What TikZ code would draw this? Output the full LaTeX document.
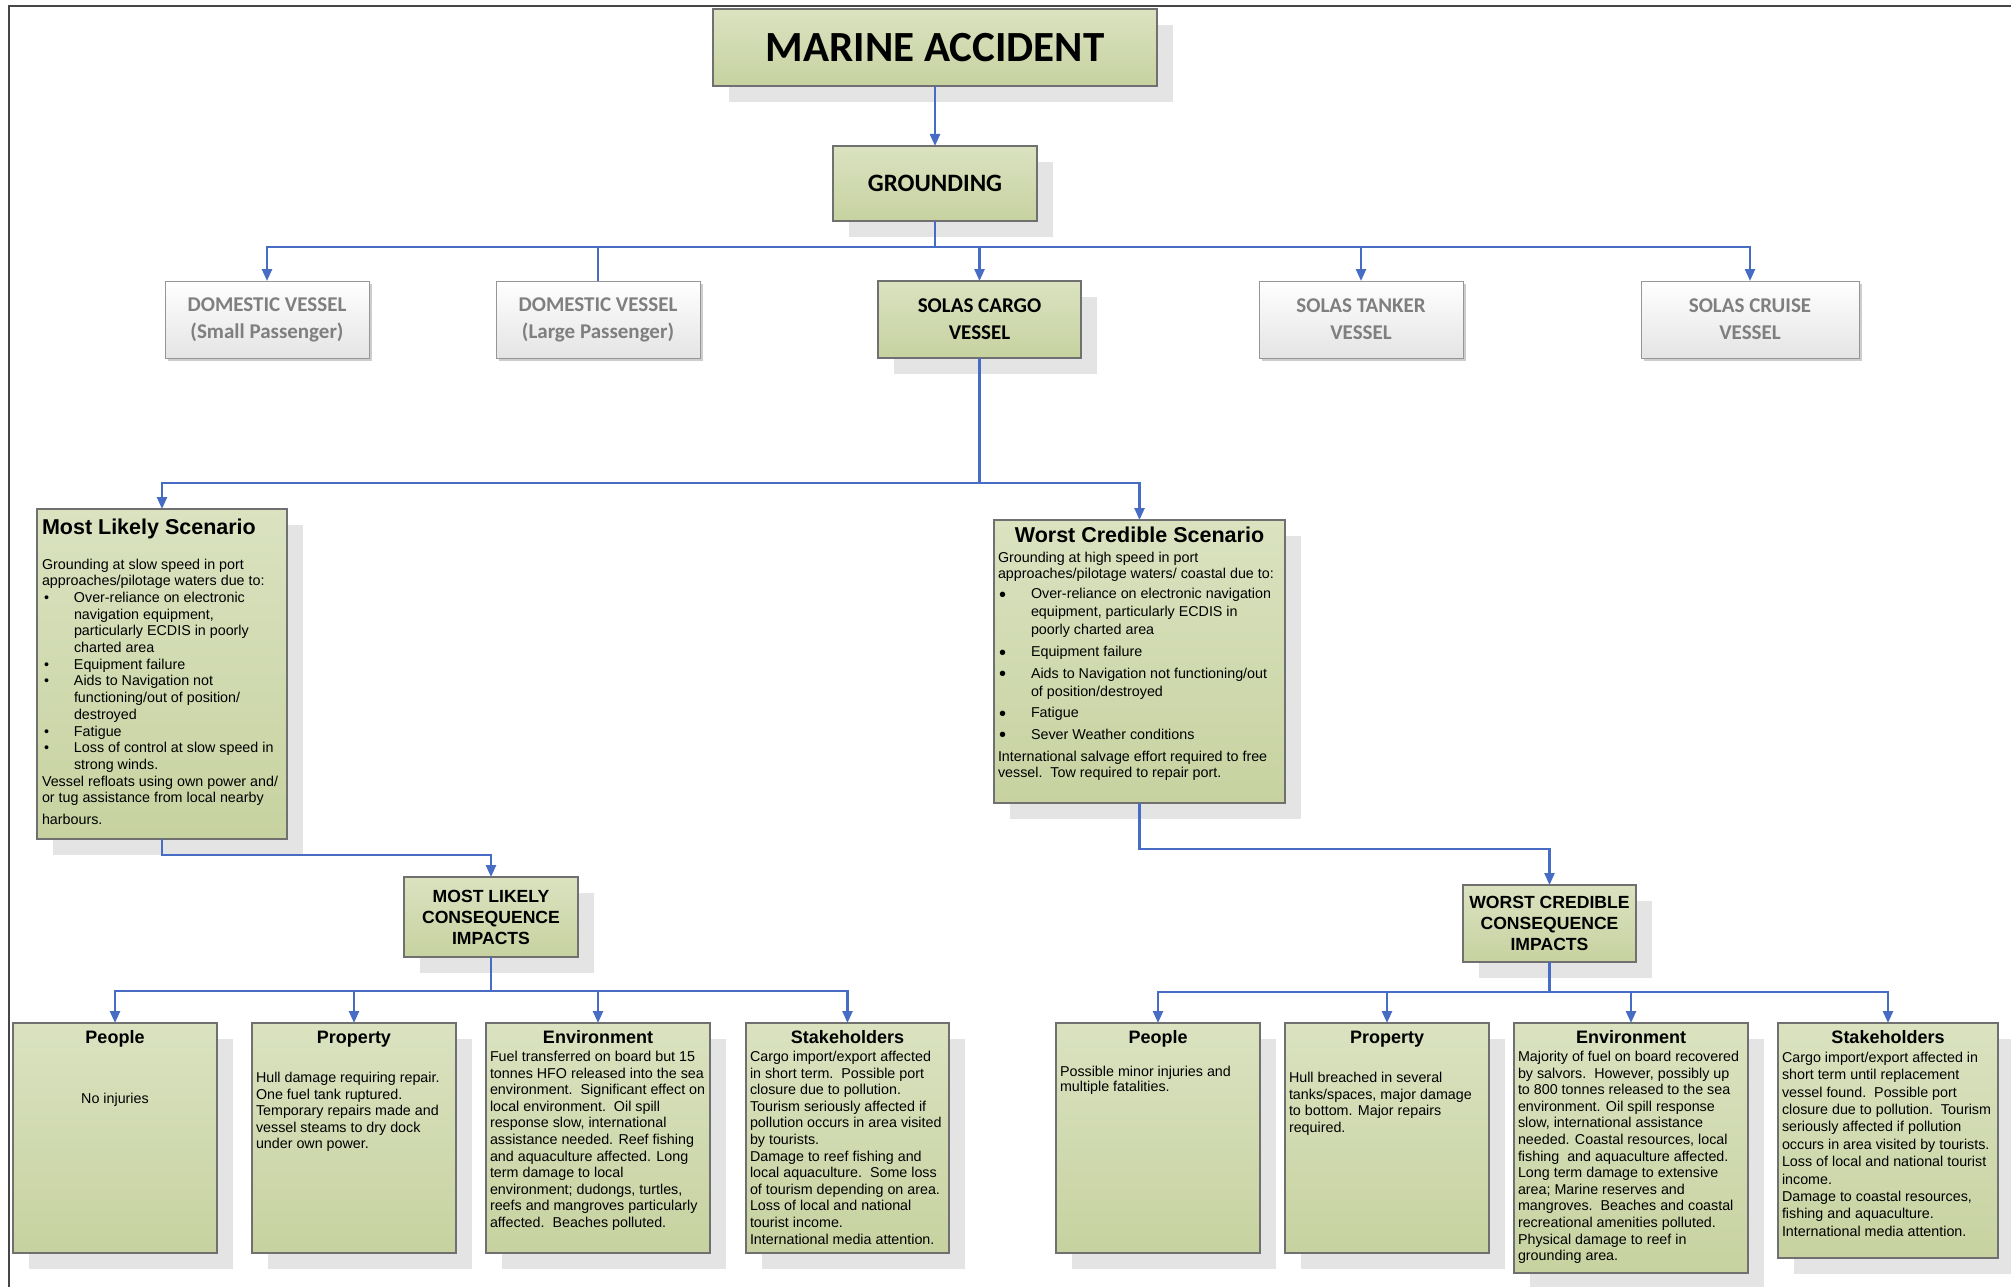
\documentclass[tikz,border=0pt]{standalone}
\usepackage{fontspec}
\setmainfont{Liberation Sans}
\newfontfamily\calib{Carlito}
\usetikzlibrary{arrows.meta,backgrounds}

\definecolor{gtop}{RGB}{218,226,192}
\definecolor{gbot}{RGB}{199,210,160}
\definecolor{boxline}{RGB}{112,112,112}
\definecolor{wline}{RGB}{150,150,150}
\definecolor{wbot}{RGB}{228,228,228}
\definecolor{wshadow}{RGB}{205,205,205}
\definecolor{graytext}{RGB}{127,127,127}
\definecolor{shadowgray}{RGB}{228,228,228}
\definecolor{linkblue}{RGB}{70,108,196}
\definecolor{framecol}{RGB}{70,70,70}

% text styles
\newcommand\bodyfont{\mdseries\fontsize{14.3pt}{16.6pt}\selectfont}
\newcommand\headfont{\bfseries\fontsize{18pt}{20pt}\selectfont}
\newcommand\vesselfont{\calib\bfseries\fontsize{21pt}{27pt}\selectfont}
% one unbreakable text line
\newcommand\txl[1]{\mbox{#1}\par}
% bullets: small (most likely) and large (worst credible)
\newcommand\mlb{\makebox[32pt][l]{\hspace{2pt}\textbullet}}
\newcommand\mli{\hspace*{32pt}}
\newcommand\wcb{\makebox[33pt][l]{\hspace{1pt}\raisebox{-2.5pt}{\fontsize{20pt}{20pt}\selectfont\textbullet}}}
\newcommand\wci{\hspace*{33pt}}
% impact box: width, height, heading, first body baseline, body
\newcommand\impact[5]{\parbox[c][#2][t]{#1}{\centering\headfont\rule{0pt}{20.5pt}#3\par
  \raggedright\bodyfont\vspace{\dimexpr#4-20.5pt-16.6pt\relax}#5}}

\begin{document}
\begin{tikzpicture}[x=1pt,y=-1pt,
  gbox/.style={draw=boxline, line width=1.2pt, top color=gtop, bottom color=gbot,
    anchor=north west, inner xsep=4pt, inner ysep=0pt, outer sep=0pt},
  wbox/.style={draw=wline, line width=1pt, top color=white, bottom color=wbot,
    anchor=north west, inner sep=0pt, outer sep=0pt, text=graytext, align=center,
    font=\vesselfont, minimum height=77pt},
  link/.style={draw=linkblue, line width=2.4pt},
  arr/.style={link, -{Triangle[length=12pt,width=10pt]}},
]
\useasboundingbox (0,0) rectangle (2011,1287);
\begin{scope}[on background layer]
  \fill[white] (0,0) rectangle (2011,1287);
\end{scope}

% page frame
\draw[framecol, line width=2.5pt] (9,1292) -- (9,6) -- (2016,6);

% top levels
\node[gbox, minimum width=444pt, minimum height=77pt,
  font=\calib\bfseries\fontsize{43pt}{50pt}\selectfont] (marine) at (713,9) {MARINE ACCIDENT};
\node[gbox, minimum width=204pt, minimum height=75pt,
  font=\calib\bfseries\fontsize{25pt}{30pt}\selectfont] (grounding) at (833,146) {GROUNDING};

% vessel types
\node[wbox, minimum width=204pt] (dsmall) at (165,281) {DOMESTIC VESSEL\\(Small Passenger)};
\node[wbox, minimum width=204pt] (dlarge) at (496,281) {DOMESTIC VESSEL\\(Large Passenger)};
\node[gbox, minimum width=203pt, minimum height=77pt, align=center, font=\vesselfont]
  (cargo) at (878,281) {SOLAS CARGO\\VESSEL};
\node[wbox, minimum width=204pt] (tanker) at (1259,281) {SOLAS TANKER\\VESSEL};
\node[wbox, minimum width=218pt] (cruise) at (1641,281) {SOLAS CRUISE\\VESSEL};

% scenarios
\node[gbox, inner xsep=5pt] (mls) at (37,509) {\parbox[c][330pt][t]{240pt}{\raggedright
  {\bfseries\fontsize{21.5pt}{24pt}\selectfont\rule{0pt}{25pt}Most Likely Scenario\par}
  \fontsize{14.3pt}{16.7pt}\selectfont
  \vspace{\dimexpr60pt-25pt-16.7pt\relax}
  \txl{Grounding at slow speed in port}
  \txl{approaches/pilotage waters due to:}
  \txl{\mlb Over-reliance on electronic}
  \txl{\mli navigation equipment,}
  \txl{\mli particularly ECDIS in poorly}
  \txl{\mli charted area}
  \txl{\mlb Equipment failure}
  \txl{\mlb Aids to Navigation not}
  \txl{\mli functioning/out of position/}
  \txl{\mli destroyed}
  \txl{\mlb Fatigue}
  \txl{\mlb Loss of control at slow speed in}
  \txl{\mli strong winds.}
  \txl{Vessel refloats using own power and/}
  \txl{or tug assistance from local nearby}
  \vspace{5pt}
  \txl{harbours.}}};

\node[gbox] (wcs) at (994,520) {\parbox[c][283pt][t]{283pt}{%
  {\centering\bfseries\fontsize{21.5pt}{24pt}\selectfont\rule{0pt}{22.5pt}Worst Credible Scenario\par}
  \raggedright\bodyfont
  \vspace{\dimexpr42pt-22.5pt-16.6pt\relax}
  \txl{Grounding at high speed in port}
  \txl{approaches/pilotage waters/ coastal due to:}
  \vspace{3.5pt}
  \txl{\wcb Over-reliance on electronic navigation}
  \vspace{1.5pt}
  \txl{\wci equipment, particularly ECDIS in}
  \vspace{1.5pt}
  \txl{\wci poorly charted area}
  \vspace{5pt}
  \txl{\wcb Equipment failure}
  \vspace{5pt}
  \txl{\wcb Aids to Navigation not functioning/out}
  \vspace{1.5pt}
  \txl{\wci of position/destroyed}
  \vspace{5pt}
  \txl{\wcb Fatigue}
  \vspace{5pt}
  \txl{\wcb Sever Weather conditions}
  \vspace{5pt}
  \txl{International salvage effort required to free}
  \txl{vessel.\ \ Tow required to repair port.}}};

% consequence headers
\node[gbox, minimum width=174pt, minimum height=80pt, align=center,
  font=\bfseries\fontsize{17.6pt}{21pt}\selectfont] (mlc) at (404,877)
  {MOST LIKELY\\CONSEQUENCE\\IMPACTS};
\node[gbox, minimum width=173pt, minimum height=77pt, align=center,
  font=\bfseries\fontsize{17.6pt}{21pt}\selectfont] (wcc) at (1463,885)
  {WORST CREDIBLE\\CONSEQUENCE\\IMPACTS};

% most likely impacts
\node[gbox] (lp) at (13,1023) {\impact{196pt}{230pt}{People}{80.5pt}{\centering\txl{No injuries}}};
\node[gbox] (lpr) at (252,1023) {\impact{196pt}{230pt}{Property}{59.5pt}{%
  \txl{Hull damage requiring repair.}
  \txl{One fuel tank ruptured.}
  \txl{Temporary repairs made and}
  \txl{vessel steams to dry dock}
  \txl{under own power.}}};
\node[gbox] (le) at (486,1023) {\impact{216pt}{230pt}{Environment}{38.5pt}{%
  \txl{Fuel transferred on board but 15}
  \txl{tonnes HFO released into the sea}
  \txl{environment.\ \ Significant effect on}
  \txl{local environment.\ \ Oil spill}
  \txl{response slow, international}
  \txl{assistance needed. Reef fishing}
  \txl{and aquaculture affected. Long}
  \txl{term damage to local}
  \txl{environment; dudongs, turtles,}
  \txl{reefs and mangroves particularly}
  \txl{affected.\ \ Beaches polluted.}}};
\node[gbox] (ls) at (746,1023) {\impact{195pt}{230pt}{Stakeholders}{38.5pt}{%
  \txl{Cargo import/export affected}
  \txl{in short term.\ \ Possible port}
  \txl{closure due to pollution.}
  \txl{Tourism seriously affected if}
  \txl{pollution occurs in area visited}
  \txl{by tourists.}
  \txl{Damage to reef fishing and}
  \txl{local aquaculture.\ \ Some loss}
  \txl{of tourism depending on area.}
  \txl{Loss of local and national}
  \txl{tourist income.}
  \txl{International media attention.}}};

% worst credible impacts
\node[gbox] (rp) at (1056,1023) {\impact{196pt}{230pt}{People}{54.5pt}{%
  \fontsize{14.3pt}{15.4pt}\selectfont
  \txl{Possible minor injuries and}
  \txl{multiple fatalities.}}};
\node[gbox] (rpr) at (1285,1023) {\impact{196pt}{230pt}{Property}{59.5pt}{%
  \txl{Hull breached in several}
  \txl{tanks/spaces, major damage}
  \txl{to bottom. Major repairs}
  \txl{required.}}};
\node[gbox] (re) at (1514,1023) {\impact{226pt}{250pt}{Environment}{38.5pt}{%
  \txl{Majority of fuel on board recovered}
  \txl{by salvors.\ \ However, possibly up}
  \txl{to 800 tonnes released to the sea}
  \txl{environment. Oil spill response}
  \txl{slow, international assistance}
  \txl{needed. Coastal resources, local}
  \txl{fishing\ \ and aquaculture affected.}
  \txl{Long term damage to extensive}
  \txl{area; Marine reserves and}
  \txl{mangroves.\ \ Beaches and coastal}
  \txl{recreational amenities polluted.}
  \txl{Physical damage to reef in}
  \txl{grounding area.}}};
\node[gbox] (rs) at (1778,1023) {\impact{212pt}{235pt}{Stakeholders}{38.5pt}{%
  \fontsize{14.3pt}{17.4pt}\selectfont
  \txl{Cargo import/export affected in}
  \txl{short term until replacement}
  \txl{vessel found.\ \ Possible port}
  \txl{closure due to pollution.\ \ Tourism}
  \txl{seriously affected if pollution}
  \txl{occurs in area visited by tourists.}
  \txl{Loss of local and national tourist}
  \txl{income.}
  \txl{Damage to coastal resources,}
  \txl{fishing and aquaculture.}
  \txl{International media attention.}}};

% drop shadows
\begin{scope}[on background layer]
  \foreach \n in {marine,grounding,cargo,mls,wcs,mlc,wcc,lp,lpr,le,ls,rp,rpr,re,rs}
    \fill[shadowgray] ([shift={(16pt,-16pt)}]\n.north west) rectangle ([shift={(16pt,-16pt)}]\n.south east);
  \foreach \n in {dsmall,dlarge,tanker,cruise}
    \fill[wshadow] ([shift={(2.5pt,-2.5pt)}]\n.north west) rectangle ([shift={(2.5pt,-2.5pt)}]\n.south east);
\end{scope}

% connectors
\draw[arr] (marine.south) -- (grounding.north);
\draw[link] (grounding.south) -- ++(0,26) coordinate (bus1);
\draw[arr] (bus1) -| (dsmall.north);
\draw[link] (bus1) -| (dlarge.north);
\draw[arr] (bus1) -| (cargo.north);
\draw[arr] (bus1) -| (tanker.north);
\draw[arr] (bus1) -| (cruise.north);

\draw[link] (cargo.south) -- ++(0,125) coordinate (bus2);
\draw[arr] (bus2) -| (mls.north);
\draw[arr] (bus2) -| (wcs.north);

\draw[arr] (mls.south) -- ++(0,16) -| (mlc.north);
\draw[arr] (wcs.south) -- ++(0,46) -| (wcc.north);

\draw[link] (mlc.south) -- ++(0,34) coordinate (bus3);
\foreach \t in {lp,lpr,le,ls} \draw[arr] (bus3) -| (\t.north);
\draw[link] (wcc.south) -- ++(0,30) coordinate (bus4);
\foreach \t in {rp,rpr,re,rs} \draw[arr] (bus4) -| (\t.north);
\end{tikzpicture}
\end{document}
